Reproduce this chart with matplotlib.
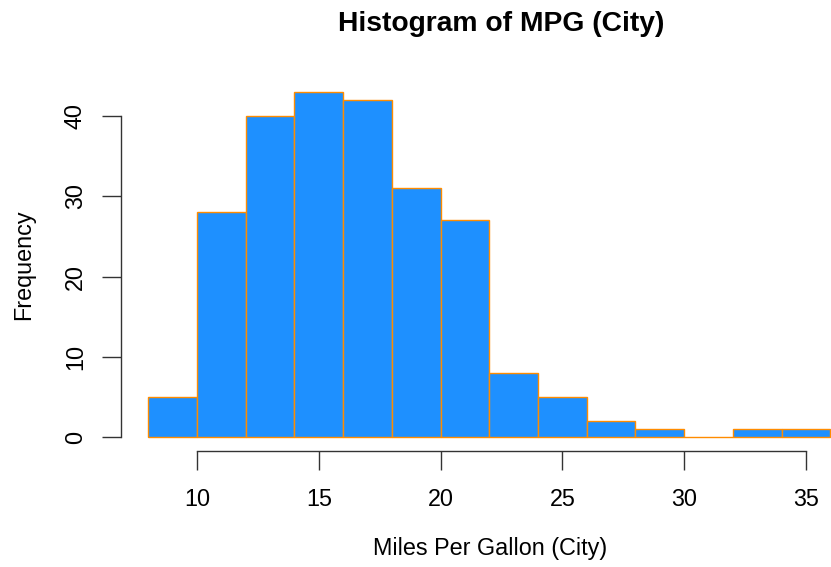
import matplotlib
matplotlib.use("Agg")
import matplotlib.pyplot as plt
import numpy as np

plt.rcParams['font.family'] = ['Liberation Sans', 'DejaVu Sans']

bin_edges = [8, 10, 12, 14, 16, 18, 20, 22, 24, 26, 28, 30, 32, 34, 36]
counts = [5, 28, 40, 43, 42, 31, 27, 8, 5, 2, 1, 0, 1, 1]
x_ticks = [10, 15, 20, 25, 30, 35]
y_ticks = [0, 10, 20, 30, 40]

W, H = 831, 567
fig = plt.figure(figsize=(W / 100, H / 100), dpi=100)

# pixel mapping
px_per_x = (806 - 197) / 25.0
x0_px = 197 - 10 * px_per_x
py_per_y = (437 - 116) / 40.0
y0_px = 437

xlim = (6.88, 37.12)
ylim = (-1.72, 44.72)
left_px = x0_px + xlim[0] * px_per_x
right_px = x0_px + xlim[1] * px_per_x
bottom_px = y0_px + (-ylim[0]) * py_per_y
top_px = y0_px - ylim[1] * py_per_y

ax = fig.add_axes([left_px / W, 1 - bottom_px / H, (right_px - left_px) / W, (bottom_px - top_px) / H])
ax.set_xlim(*xlim)
ax.set_ylim(*ylim)

widths = np.diff(bin_edges)
ax.bar(bin_edges[:-1], counts, width=widths, align='edge', color='#1E90FF',
       edgecolor='#FF8C00', linewidth=1.0, clip_on=False)

for s in ax.spines.values():
    s.set_visible(False)
ax.patch.set_visible(False)

# R style axes
ax.spines['left'].set_visible(True)
ax.spines['left'].set_bounds(0, 40)
ax.spines['left'].set_position(('data', xlim[0]))
ax.spines['bottom'].set_visible(True)
ax.spines['bottom'].set_bounds(10, 35)
ax.spines['bottom'].set_position(('data', ylim[0]))
for s in ('left', 'bottom'):
    ax.spines[s].set_color('#333333')
    ax.spines[s].set_linewidth(1.0)

ax.set_xticks(x_ticks)
ax.set_yticks(y_ticks)
ax.set_yticklabels([str(v) for v in y_ticks], rotation=90, va='center')
ax.tick_params(axis='both', length=14, width=1.0, color='#333333', labelsize=16.8)
ax.tick_params(axis='x', pad=12.5)
ax.tick_params(axis='y', pad=10.5)

fig.text(501 / W, 1 - 24 / H, 'Histogram of MPG (City)', ha='center', va='center',
         fontsize=20.3, fontweight='bold')
fig.text(490 / W, 1 - 549 / H, 'Miles Per Gallon (City)', ha='center', va='center', fontsize=16.8)
fig.text(24 / W, 1 - 265 / H, 'Frequency', ha='center', va='center', fontsize=16.8, rotation=90)

fig.savefig('out.png', dpi=100)
